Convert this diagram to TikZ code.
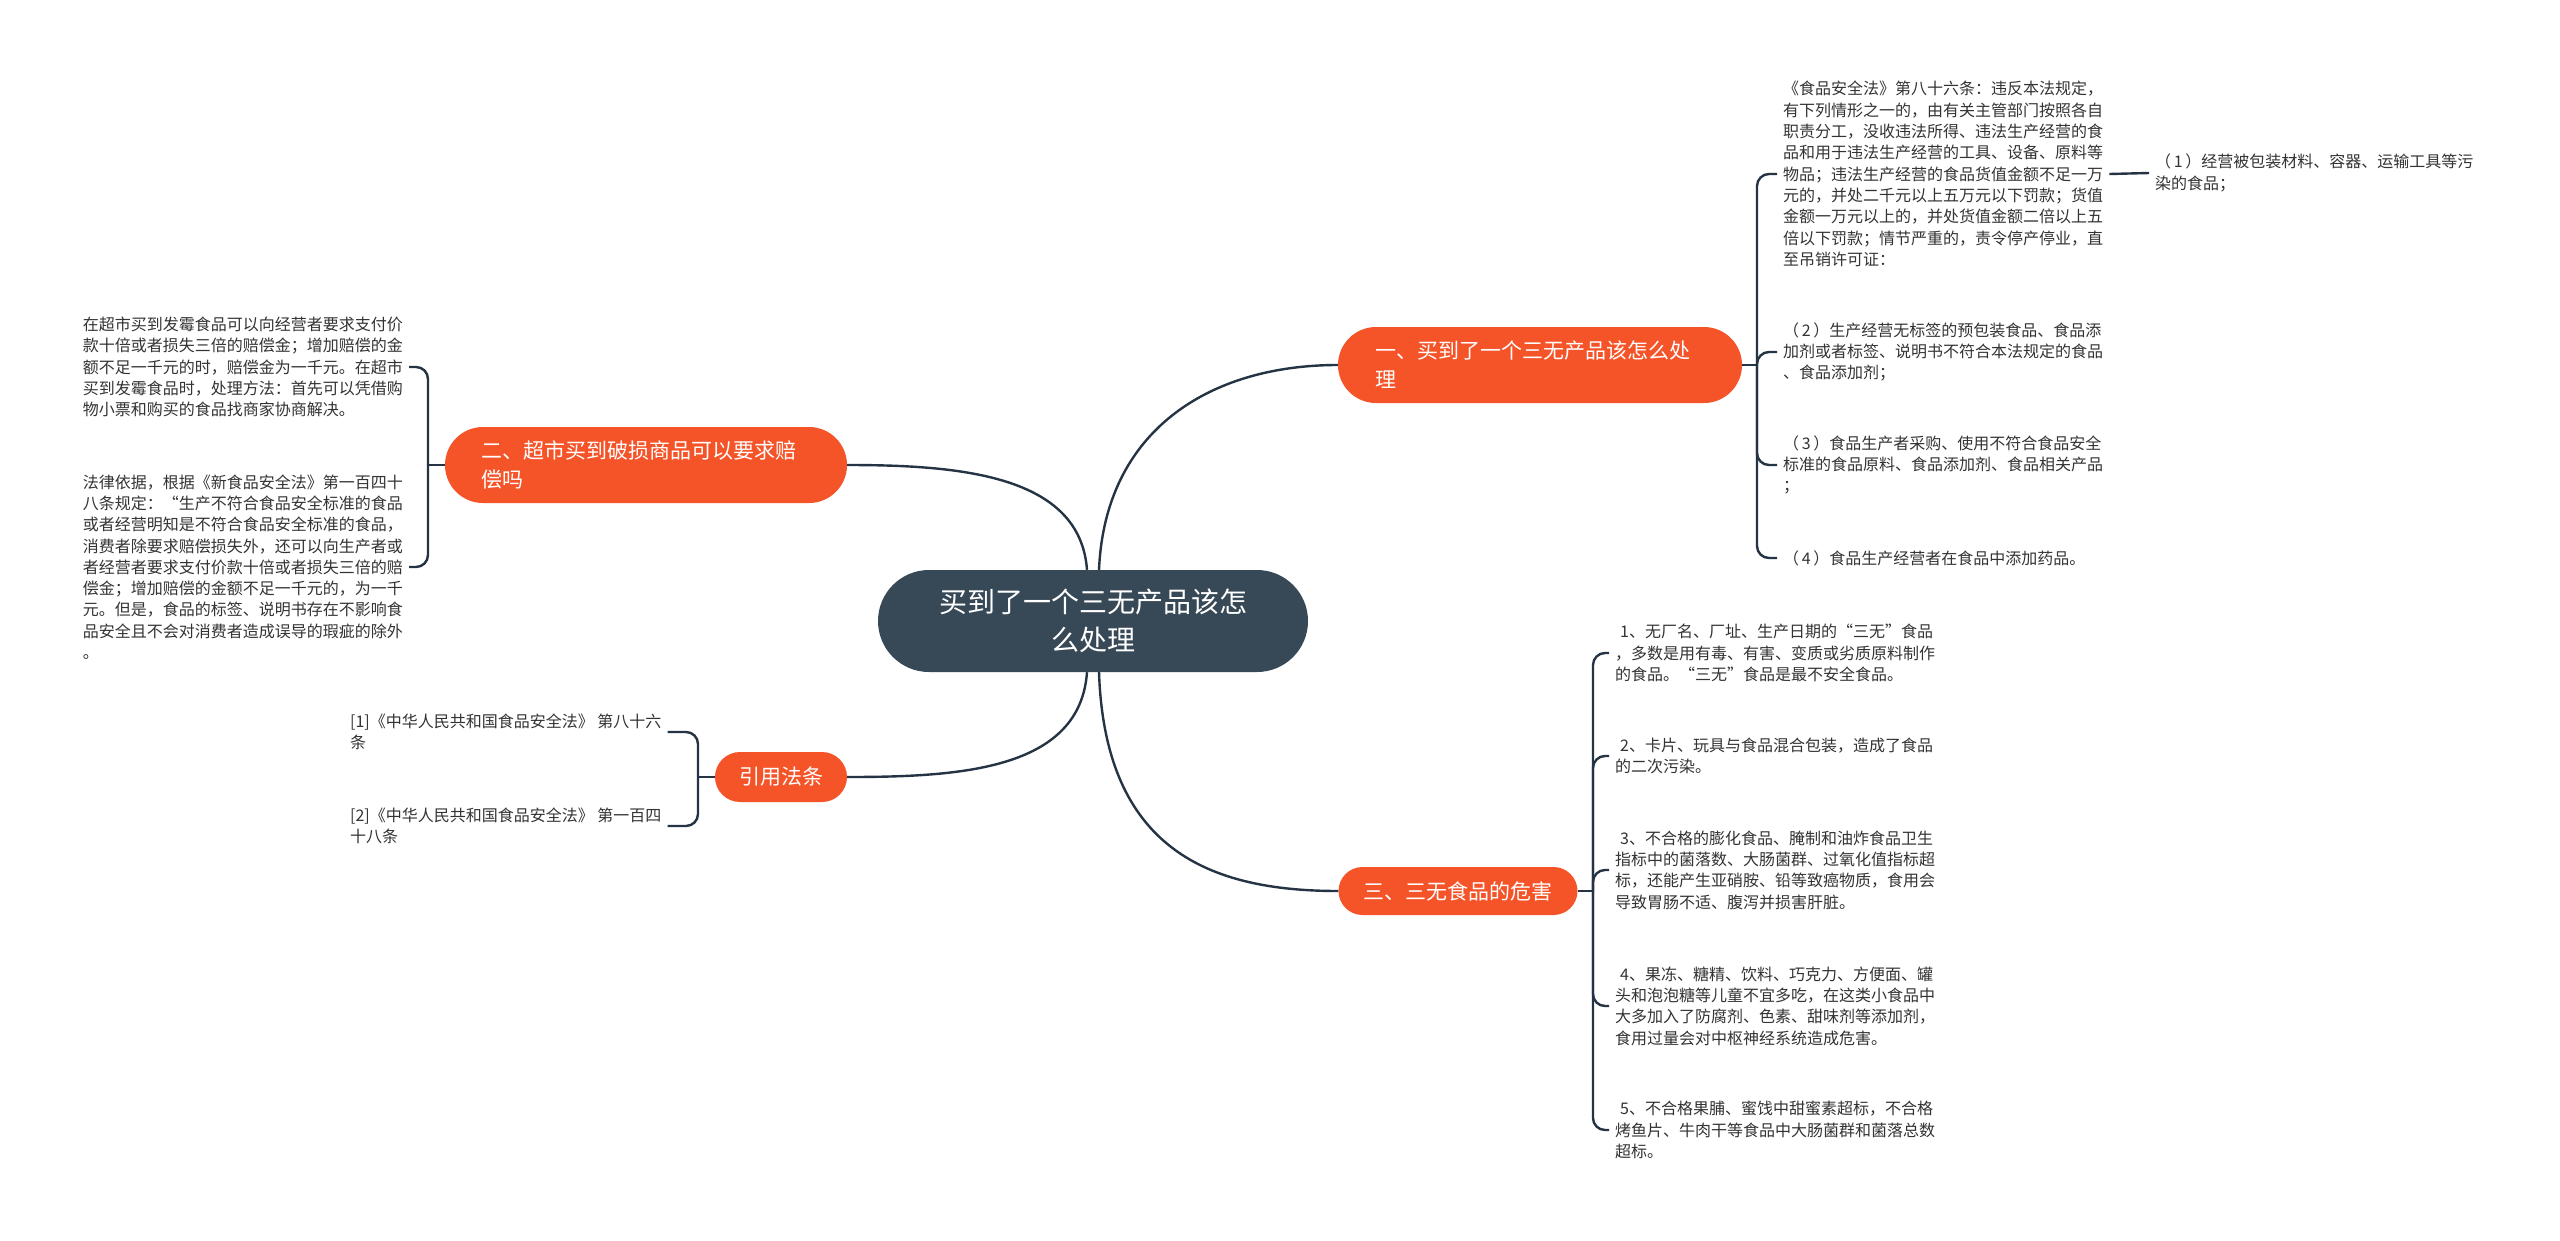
\documentclass[tikz,border=0pt]{standalone}
\usepackage{fontspec}
\setmainfont{Noto Sans CJK SC}
\definecolor{orangenode}{RGB}{245,83,40}
\definecolor{rootcol}{RGB}{55,72,86}
\definecolor{linecol}{RGB}{37,52,68}
\definecolor{txtcol}{RGB}{51,51,51}
\newcommand{\pnum}[1]{（\,#1\,）}
\newcommand{\lead}{\hspace*{5pt}}
\begin{document}
\begin{tikzpicture}[x=1pt,y=-1pt,
  conn/.style={draw=linecol,line width=2.4pt},
  brk/.style={conn,rounded corners=12pt},
  leafl/.style={align=left,inner sep=6pt,text=txtcol,font=\fontsize{16}{21.3}\selectfont},
  topic/.style={fill=orangenode,text=white,inner sep=0pt,font=\fontsize{21}{29}\selectfont},
  rootnode/.style={fill=rootcol,text=white,inner sep=0pt,align=center,font=\fontsize{28}{38}\selectfont}
]
\useasboundingbox[fill=white] (0,0) rectangle (2560,1240);

% root and main topics
\node[rootnode,minimum width=430pt,minimum height=102pt,rounded corners=51pt] (root) at (1093,621) {买到了一个三无产品该怎\\么处理};
\node[topic,align=left,text width=330pt,minimum width=404pt,minimum height=76pt,rounded corners=38pt] (n1) at (1540,365) {一、买到了一个三无产品该怎么处\\理};
\node[topic,align=left,text width=330pt,minimum width=402pt,minimum height=76pt,rounded corners=38pt] (n2) at (646,465) {二、超市买到破损商品可以要求赔\\偿吗};
\node[topic,align=center,minimum width=132pt,minimum height=50pt,rounded corners=25pt] (n4) at (781,777) {引用法条};
\node[topic,align=center,minimum width=239pt,minimum height=48pt,rounded corners=24pt] (n3) at (1458,891) {三、三无食品的危害};

% leaves of topic 1
\node[leafl,anchor=west] (c11) at (1777,174) {《食品安全法》第八十六条：违反本法规定，\\有下列情形之一的，由有关主管部门按照各自\\职责分工，没收违法所得、违法生产经营的食\\品和用于违法生产经营的工具、设备、原料等\\物品；违法生产经营的食品货值金额不足一万\\元的，并处二千元以上五万元以下罚款；货值\\金额一万元以上的，并处货值金额二倍以上五\\倍以下罚款；情节严重的，责令停产停业，直\\至吊销许可证：};
\node[leafl,anchor=west] (c111) at (2149,173) {\pnum{1}经营被包装材料、容器、运输工具等污\\染的食品；};
\node[leafl,anchor=west] (c12) at (1777,352) {\pnum{2}生产经营无标签的预包装食品、食品添\\加剂或者标签、说明书不符合本法规定的食品\\、食品添加剂；};
\node[leafl,anchor=west] (c13) at (1777,465) {\pnum{3}食品生产者采购、使用不符合食品安全\\标准的食品原料、食品添加剂、食品相关产品\\；};
\node[leafl,anchor=west] (c14) at (1777,558) {\pnum{4}食品生产经营者在食品中添加药品。};

% leaves of topic 2
\node[leafl,anchor=east] (c21) at (409,367) {在超市买到发霉食品可以向经营者要求支付价\\款十倍或者损失三倍的赔偿金；增加赔偿的金\\额不足一千元的时，赔偿金为一千元。在超市\\买到发霉食品时，处理方法：首先可以凭借购\\物小票和购买的食品找商家协商解决。};
\node[leafl,anchor=east] (c22) at (409,567) {法律依据，根据《新食品安全法》第一百四十\\八条规定：“生产不符合食品安全标准的食品\\或者经营明知是不符合食品安全标准的食品，\\消费者除要求赔偿损失外，还可以向生产者或\\者经营者要求支付价款十倍或者损失三倍的赔\\偿金；增加赔偿的金额不足一千元的，为一千\\元。但是，食品的标签、说明书存在不影响食\\品安全且不会对消费者造成误导的瑕疵的除外\\。};

% leaves of citations
\node[leafl,anchor=west] (c41) at (344,732) {[1]《中华人民共和国食品安全法》 第八十六\\条};
\node[leafl,anchor=west] (c42) at (344,826) {[2]《中华人民共和国食品安全法》 第一百四\\十八条};

% leaves of topic 3
\node[leafl,anchor=west] (c31) at (1609,653) {\lead 1、无厂名、厂址、生产日期的“三无”食品\\，多数是用有毒、有害、变质或劣质原料制作\\的食品。“三无”食品是最不安全食品。};
\node[leafl,anchor=west] (c32) at (1609,756) {\lead 2、卡片、玩具与食品混合包装，造成了食品\\的二次污染。};
\node[leafl,anchor=west] (c33) at (1609,870) {\lead 3、不合格的膨化食品、腌制和油炸食品卫生\\指标中的菌落数、大肠菌群、过氧化值指标超\\标，还能产生亚硝胺、铅等致癌物质，食用会\\导致胃肠不适、腹泻并损害肝脏。};
\node[leafl,anchor=west] (c34) at (1609,1006) {\lead 4、果冻、糖精、饮料、巧克力、方便面、罐\\头和泡泡糖等儿童不宜多吃，在这类小食品中\\大多加入了防腐剂、色素、甜味剂等添加剂，\\食用过量会对中枢神经系统造成危害。};
\node[leafl,anchor=west] (c35) at (1609,1130) {\lead 5、不合格果脯、蜜饯中甜蜜素超标，不合格\\烤鱼片、牛肉干等食品中大肠菌群和菌落总数\\超标。};

% junction points
\coordinate (j1) at (1757,365);
\coordinate (j2) at (428,465);
\coordinate (j4) at (698,777);
\coordinate (j3) at (1593,891);

% root connectors
\draw[conn] ([xshift=6pt]root.north) .. controls (1105,430) and (1210,365) .. (n1.west);
\draw[conn] ([xshift=-6pt]root.north) .. controls (1080,475) and (960,465) .. (n2.east);
\draw[conn] ([xshift=-6pt]root.south) .. controls (1080,770) and (960,777) .. (n4.east);
\draw[conn] ([xshift=6pt]root.south) .. controls (1105,850) and (1210,891) .. (n3.west);

% topic 1 bracket
\draw[conn] (n1.east) -- (j1);
\draw[brk] (j1) |- (c11.west);
\draw[brk] (j1) |- (c12.west);
\draw[brk] (j1) |- (c13.west);
\draw[brk] (j1) |- (c14.west);
\draw[conn] (c11.east) -- (c111.west);

% topic 2 bracket
\draw[conn] (n2.west) -- (j2);
\draw[brk] (j2) |- (c21.east);
\draw[brk] (j2) |- (c22.east);

% citations bracket
\draw[conn] (n4.west) -- (j4);
\draw[brk] (j4) |- (c41.east);
\draw[brk] (j4) |- (c42.east);

% topic 3 bracket
\draw[conn] (n3.east) -- (j3);
\draw[brk] (j3) |- (c31.west);
\draw[brk] (j3) |- (c32.west);
\draw[brk] (j3) |- (c33.west);
\draw[brk] (j3) |- (c34.west);
\draw[brk] (j3) |- (c35.west);
\end{tikzpicture}
\end{document}
